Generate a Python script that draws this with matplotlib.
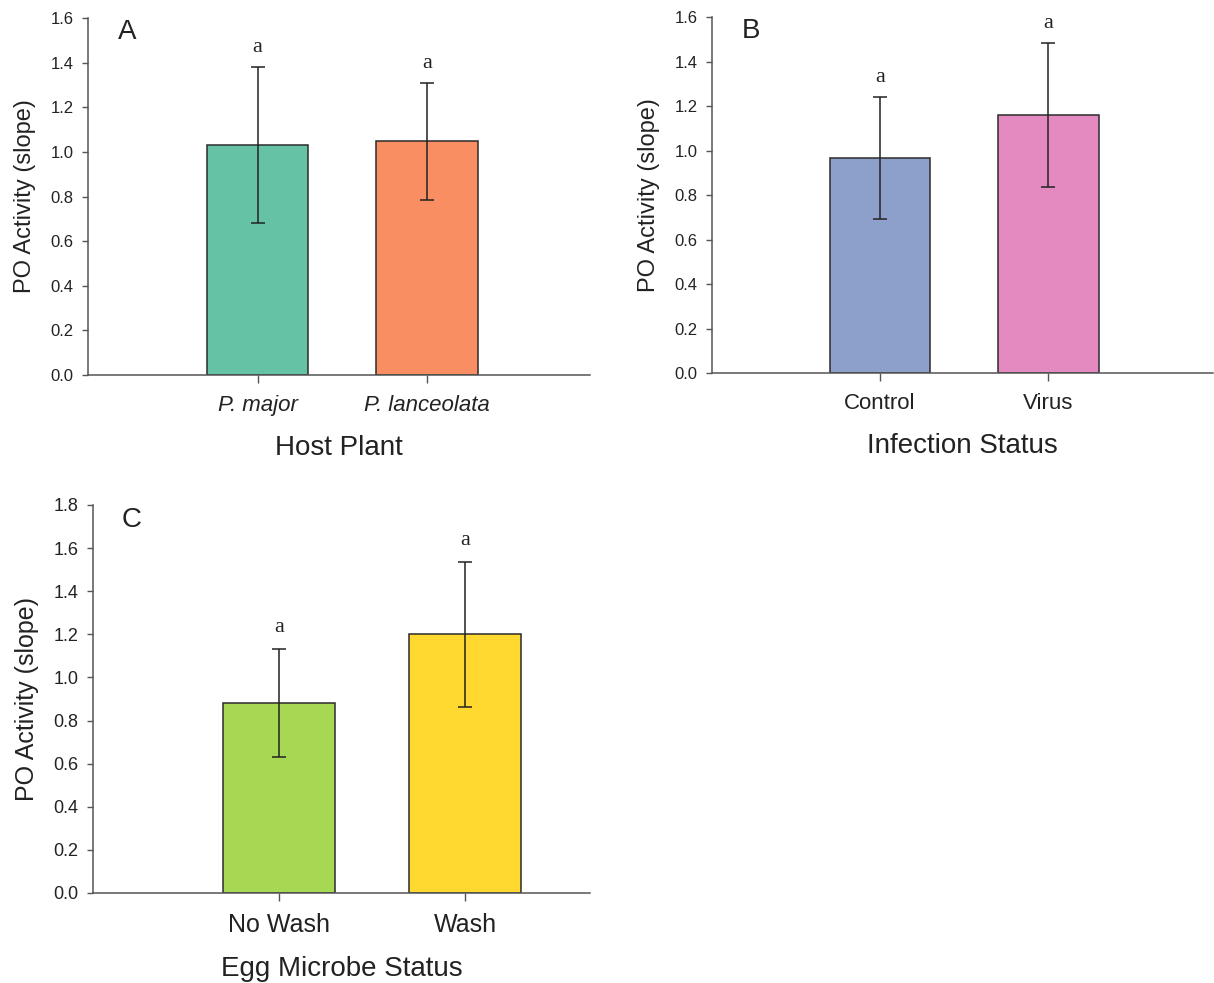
import matplotlib
matplotlib.use("Agg")
import matplotlib.pyplot as plt

plt.rcParams['font.family'] = ['Liberation Sans', 'DejaVu Sans']

# panel A - host plant
plants = ['P. major', 'P. lanceolata']
plant_po = [1.032, 1.047]
plant_se = [0.349, 0.263]

# panel B - infection
infection = ['Control', 'Virus']
infection_po = [0.967, 1.159]
infection_se = [0.275, 0.322]

# panel C - egg wash
wash = ['No Wash', 'Wash']
wash_po = [0.882, 1.200]
wash_se = [0.250, 0.337]

letters = ['a', 'a']

fig = plt.figure(figsize=(12.14, 9.83), dpi=100)
axA = fig.add_axes([0.0725, 0.6185, 0.4135, 0.3632])
axB = fig.add_axes([0.5865, 0.6205, 0.4125, 0.3622])
axC = fig.add_axes([0.0766, 0.0916, 0.4094, 0.3947])


def panel(ax, cats, vals, errs, colors, xlabel, tag, ymax, xmax, italic=False, fs=16, ts=12, ys=17):
    pos = [1, 2]
    ax.bar(pos, vals, width=0.6, color=colors, edgecolor='#2b2b2b', linewidth=1.1)
    ax.errorbar(pos, vals, yerr=errs, fmt='none', ecolor='#222222',
                elinewidth=1.1, capsize=5, capthick=1.1)
    for p, v, e, l in zip(pos, vals, errs, letters):
        ax.text(p, v + e + ymax * 0.055, l, ha='center', va='center',
                fontsize=16, family='Liberation Serif', color='#222222')
    ax.set_xlim(0, xmax)
    ax.set_ylim(0, ymax)
    ax.set_yticks([round(0.2 * i, 1) for i in range(int(round(ymax / 0.2)) + 1)])
    ax.yaxis.set_major_formatter(matplotlib.ticker.FormatStrFormatter('%.1f'))
    ax.set_xticks(pos)
    ax.set_xticklabels(cats, fontsize=fs, style='italic' if italic else 'normal')
    ax.tick_params(axis='y', labelsize=ts, length=4.5, width=1, color='#555555', pad=6,
                   labelcolor='#222222')
    ax.tick_params(axis='x', length=6, width=1, color='#555555', pad=8.5,
                   labelcolor='#222222')
    for s in ['top', 'right']:
        ax.spines[s].set_visible(False)
    for s in ['left', 'bottom']:
        ax.spines[s].set_color('#555555')
        ax.spines[s].set_linewidth(1.1)
    ax.set_ylabel('PO Activity (slope)', fontsize=ys, labelpad=10, color='#222222')
    ax.set_xlabel(xlabel, fontsize=20, labelpad=13.5, color='#222222')
    ax.text(0.078, 0.96, tag, transform=ax.transAxes, fontsize=20, va='center',
            ha='center', color='#222222')


panel(axA, plants, plant_po, plant_se, ['#66C2A5', '#F88E62'], 'Host Plant', 'A', 1.6, 2.96, italic=True)
panel(axB, infection, infection_po, infection_se, ['#8DA0CB', '#E48AC1'], 'Infection Status', 'B', 1.6, 2.98)
panel(axC, wash, wash_po, wash_se, ['#A6D854', '#FFD92F'], 'Egg Microbe Status', 'C', 1.8, 2.67,
      fs=18, ts=13, ys=18)

fig.savefig('out.png', dpi=100)
